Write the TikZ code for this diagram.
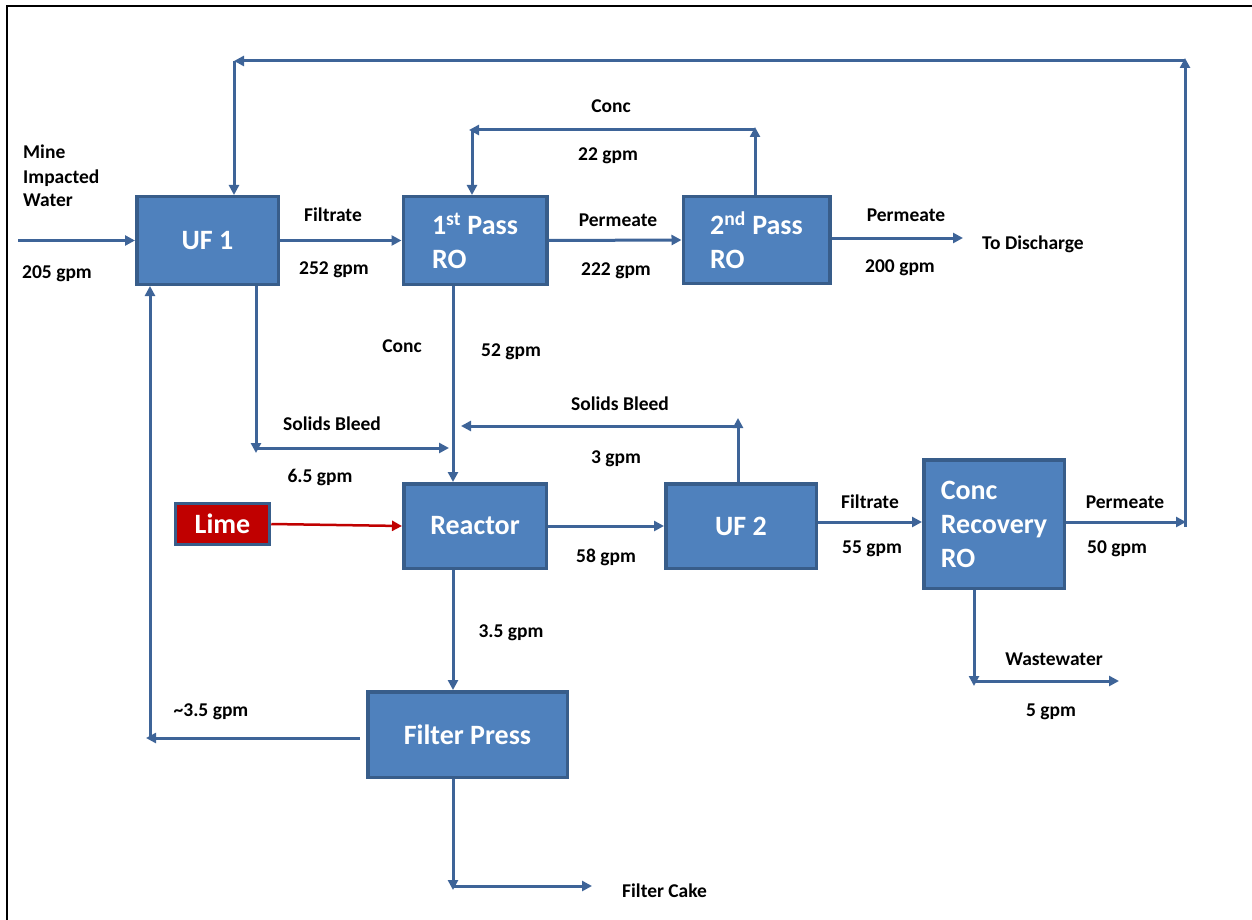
\documentclass[tikz,border=0pt]{standalone}
\usepackage{fontspec}
\setmainfont{Carlito}
\usetikzlibrary{arrows.meta}
\definecolor{boxfill}{RGB}{79,129,189}
\definecolor{boxline}{RGB}{56,93,138}
\definecolor{flow}{RGB}{62,100,152}
\definecolor{limered}{RGB}{192,0,0}
\begin{document}
\begin{tikzpicture}[x=1pt,y=-1pt,>={Triangle[length=10pt,width=10pt]},
	unit/.style={draw=boxline,fill=boxfill,line width=3.5pt,inner sep=0pt,text=white,align=left,
		font=\fontsize{28}{34}\selectfont\bfseries},
	lbl/.style={font=\fontsize{19.5}{24}\selectfont\bfseries,inner sep=0pt,anchor=base},
	flowline/.style={draw=flow,line width=3pt}]
	\useasboundingbox (0,0) rectangle (1252,920);
	\draw[black,line width=2.2pt] (7,920)--(7,6)--(1252,6);
	% units
	\node[unit,minimum width=141.5pt,minimum height=87.5pt] (uf1) at (207.5,240.5) {UF 1};
	\node[unit,minimum width=143.5pt,minimum height=87.5pt] (ro1) at (475,240.5) {1\textsuperscript{st} Pass\\RO};
	\node[unit,minimum width=146.5pt,minimum height=86.5pt] (ro2) at (756.5,240) {2\textsuperscript{nd} Pass\\RO};
	\node[unit,minimum width=142.5pt,minimum height=84.5pt] (reac) at (475,526) {Reactor};
	\node[unit,minimum width=150.5pt,minimum height=84.5pt] (uf2) at (741,526) {UF 2};
	\node[unit,minimum width=140.5pt,minimum height=128.5pt] (crro) at (994,524) {Conc\\Recovery\\RO};
	\node[unit,minimum width=199.5pt,minimum height=85.5pt] (fp) at (467.5,734.5) {Filter Press};
	\node[unit,fill=limered,minimum width=94pt,minimum height=41pt] (lime) at (222.5,524) {Lime};
	% helper points
	\coordinate (in) at (18,240.5);
	\coordinate (dis) at (963,238);
	\coordinate (concR) at (755,127);
	\coordinate (concL) at (469,130);
	\coordinate (pr) at (1186,522);
	\coordinate (pb) at (1185,527);
	\coordinate (tr) at (1185,58);
	\coordinate (tl) at (234,61);
	\coordinate (vx) at (453,400);
	\coordinate (sbA) at (256,453);
	\coordinate (sbB) at (449,448);
	\coordinate (sb2) at (738,418);
	\coordinate (sb3) at (461,426);
	\coordinate (ww1) at (974,686);
	\coordinate (ww2) at (1119,681);
	\coordinate (rc) at (146,738);
	\coordinate (rb) at (150,738);
	\coordinate (fc1) at (453,890);
	\coordinate (fc2) at (592,886);
	% flows
	\draw[flowline,->] (in)--(uf1.west);
	\draw[flowline,->] (uf1.east)--(ro1.west);
	\draw[flowline,->] (ro1.east)--(ro2.west);
	\draw[flowline,->] (ro2.east|-dis)--(dis);
	\draw[flowline,->] (concR|-ro2.north)--(concR);
	\draw[flowline,->] (concR|-concL)--(concL);
	\draw[flowline,->] (472,130)--(472,0|-ro1.north);
	\draw[flowline,->] (crro.east|-pr)--(pr);
	\draw[flowline,->] (pb)--(tr);
	\draw[flowline,->] (tr|-tl)--(tl);
	\draw[flowline,->] (tl)--(tl|-uf1.north);
	\draw[flowline,->] (sbA|-uf1.south)--(sbA);
	\draw[flowline,->] (256,448)--(sbB);
	\draw[flowline,->] (vx|-ro1.south)--(vx|-reac.north);
	\draw[flowline,->] (sb2|-uf2.north)--(sb2);
	\draw[flowline,->] (sb2|-sb3)--(sb3);
	\draw[line width=2.5pt,limered,->] (lime.east)--(reac.west);
	\draw[flowline,->] (reac.east)--(uf2.west);
	\draw[flowline,->] (uf2.east|-0,522)--(crro.west|-0,522);
	\draw[flowline,->] (ww1|-crro.south)--(ww1);
	\draw[flowline,->] (ww1|-ww2)--(ww2);
	\draw[flowline,->] (vx|-reac.south)--(vx|-fp.north);
	\draw[flowline,->] ([xshift=-6pt]fp.west|-rc)--(rc);
	\draw[flowline,->] (rb)--(rb|-uf1.south);
	\draw[flowline,->] (vx|-fp.south)--(fc1);
	\draw[flowline,->] (fc1|-fc2)--(fc2);
	% labels
	\node[lbl,anchor=base west,align=left] (miw) at (23,207) {Mine\\Impacted\\Water};
	\node[lbl,anchor=base west] (q205) at (22,278) {205 gpm};
	\node[lbl] (f1) at (333,222) {Filtrate};
	\node[lbl] (q252) at (334,274) {252 gpm};
	\node[lbl] (p1) at (618,226) {Permeate};
	\node[lbl] (q222) at (616,275) {222 gpm};
	\node[lbl] (c1) at (611,113) {Conc};
	\node[lbl] (q22) at (608,161) {22 gpm};
	\node[lbl] (p2) at (906,222) {Permeate};
	\node[lbl] (q200) at (900,272) {200 gpm};
	\node[lbl,anchor=base west] (todis) at (982,249) {To Discharge};
	\node[lbl] (c2) at (402,352) {Conc};
	\node[lbl] (q52) at (511,356) {52 gpm};
	\node[lbl] (s1) at (332,430) {Solids Bleed};
	\node[lbl] (q65) at (320,482) {6.5 gpm};
	\node[lbl] (s2) at (620,410) {Solids Bleed};
	\node[lbl] (q3) at (616,463) {3 gpm};
	\node[lbl] (q58) at (606,562) {58 gpm};
	\node[lbl] (f2) at (870,508) {Filtrate};
	\node[lbl] (q55) at (872,553) {55 gpm};
	\node[lbl] (p3) at (1125,508) {Permeate};
	\node[lbl] (q50) at (1117,553) {50 gpm};
	\node[lbl] (wwl) at (1054,665) {Wastewater};
	\node[lbl] (q5) at (1051,716) {5 gpm};
	\node[lbl] (q35) at (511,637) {3.5 gpm};
	\node[lbl] (q35r) at (211,716) {\textasciitilde3.5 gpm};
	\node[lbl,anchor=base west] (cake) at (622,897) {Filter Cake};
\end{tikzpicture}
\end{document}
